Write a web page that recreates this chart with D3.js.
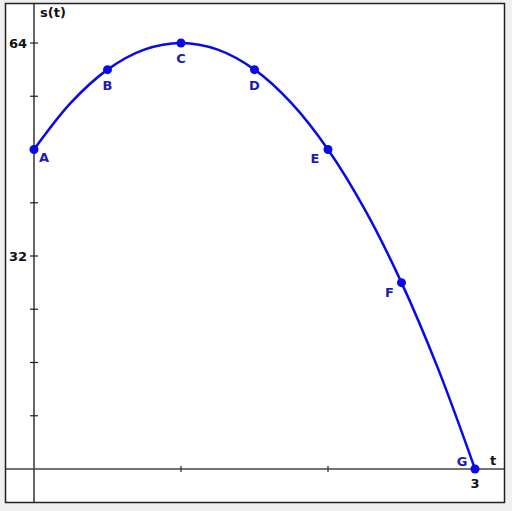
<!DOCTYPE html>
<html>
<head>
<meta charset="utf-8">
<script src="https://cdn.jsdelivr.net/npm/d3@7"></script>
<style>
  html, body { margin: 0; padding: 0; background: #f0f0f0; }
  svg { display: block; }
  text { font-family: "DejaVu Sans", Verdana, sans-serif; font-weight: bold; }
</style>
</head>
<body>
<div id="chart"></div>
<script>
// labelled points on s(t)
const pointNames = ['A', 'B', 'C', 'D', 'E', 'F', 'G'];
const tValues = [0, 0.5, 1, 1.5, 2, 2.5, 3];
const sValues = [48, 60, 64, 60, 48, 28, 0];

// the traced curve, including points between the labelled ones
const curveT = [0, 0.25, 0.5, 0.75, 1, 1.25, 1.5, 1.75, 2, 2.25, 2.5, 2.75, 3];
const curveS = [48, 55, 60, 63, 64, 63, 60, 55, 48, 39, 28, 15, 0];

const yTicks = [8, 16, 24, 32, 40, 48, 56, 64];
const yTickLabels = ['32', '64'];
const xTicks = [1, 2, 3];
const xTickLabels = ['3'];

// label placement relative to each point (layout only)
const labelDx = [10, 0, 0, 0, -13, -12, -13];
const labelDy = [12, 20, 20, 20, 13, 14, -3];

const width = 512;
const height = 511;
const blue = '#0a0ae6';
const labelBlue = '#1c1cb4';

const svg = d3.select('#chart').append('svg')
  .attr('width', width)
  .attr('height', height);

svg.append('rect')
  .attr('x', 5.5).attr('y', 3.5)
  .attr('width', 499).attr('height', 499)
  .attr('fill', '#fff')
  .attr('stroke', '#222')
  .attr('stroke-width', 1.5);

const x = d3.scaleLinear().domain([0, 3]).range([34, 475]);
const y = d3.scaleLinear().domain([0, 64]).range([469, 43]);

// axes lines
svg.append('line')
  .attr('x1', x(0)).attr('x2', x(0))
  .attr('y1', 4).attr('y2', 502)
  .attr('stroke', '#333').attr('stroke-width', 1.5);
svg.append('line')
  .attr('x1', 6).attr('x2', 504)
  .attr('y1', y(0)).attr('y2', y(0))
  .attr('stroke', '#444').attr('stroke-width', 1.5);

// y ticks
svg.selectAll('.ytick').data(yTicks).enter().append('line')
  .attr('x1', x(0) - 4).attr('x2', x(0) + 4)
  .attr('y1', d => y(d)).attr('y2', d => y(d))
  .attr('stroke', '#222').attr('stroke-width', 1.2);

svg.selectAll('.ylab').data(yTickLabels).enter().append('text')
  .attr('x', x(0) - 7)
  .attr('y', d => y(+d) + 5)
  .attr('text-anchor', 'end')
  .attr('font-size', 13)
  .attr('fill', '#111')
  .text(d => d);

// x ticks
svg.selectAll('.xtick').data(xTicks).enter().append('line')
  .attr('x1', d => x(d)).attr('x2', d => x(d))
  .attr('y1', y(0) - 3).attr('y2', y(0) + 3)
  .attr('stroke', '#222').attr('stroke-width', 1.2);

svg.selectAll('.xlab').data(xTickLabels).enter().append('text')
  .attr('x', d => x(+d))
  .attr('y', y(0) + 19)
  .attr('text-anchor', 'middle')
  .attr('font-size', 13)
  .attr('fill', '#111')
  .text(d => d);

// axis titles
svg.append('text')
  .attr('x', x(0) + 6).attr('y', 17)
  .attr('font-size', 13)
  .attr('fill', '#111')
  .text('s(t)');
svg.append('text')
  .attr('x', 490).attr('y', y(0) - 4)
  .attr('font-size', 13)
  .attr('fill', '#111')
  .text('t');

// curve
const tracePoints = curveT.map((t, i) => ({ t, s: curveS[i] }));
const points = tValues.map((t, i) => ({ t, s: sValues[i], name: pointNames[i] }));

const line = d3.line()
  .x(d => x(d.t))
  .y(d => y(d.s))
  .curve(d3.curveCatmullRom);

svg.append('path')
  .datum(tracePoints)
  .attr('d', line)
  .attr('fill', 'none')
  .attr('stroke', blue)
  .attr('stroke-width', 2.5);

svg.selectAll('.pt').data(points).enter().append('circle')
  .attr('cx', d => x(d.t))
  .attr('cy', d => y(d.s))
  .attr('r', 4.5)
  .attr('fill', blue);

svg.selectAll('.plab').data(points).enter().append('text')
  .attr('x', (d, i) => x(d.t) + labelDx[i])
  .attr('y', (d, i) => y(d.s) + labelDy[i])
  .attr('text-anchor', 'middle')
  .attr('font-size', 13)
  .attr('fill', labelBlue)
  .text(d => d.name);
</script>
</body>
</html>
